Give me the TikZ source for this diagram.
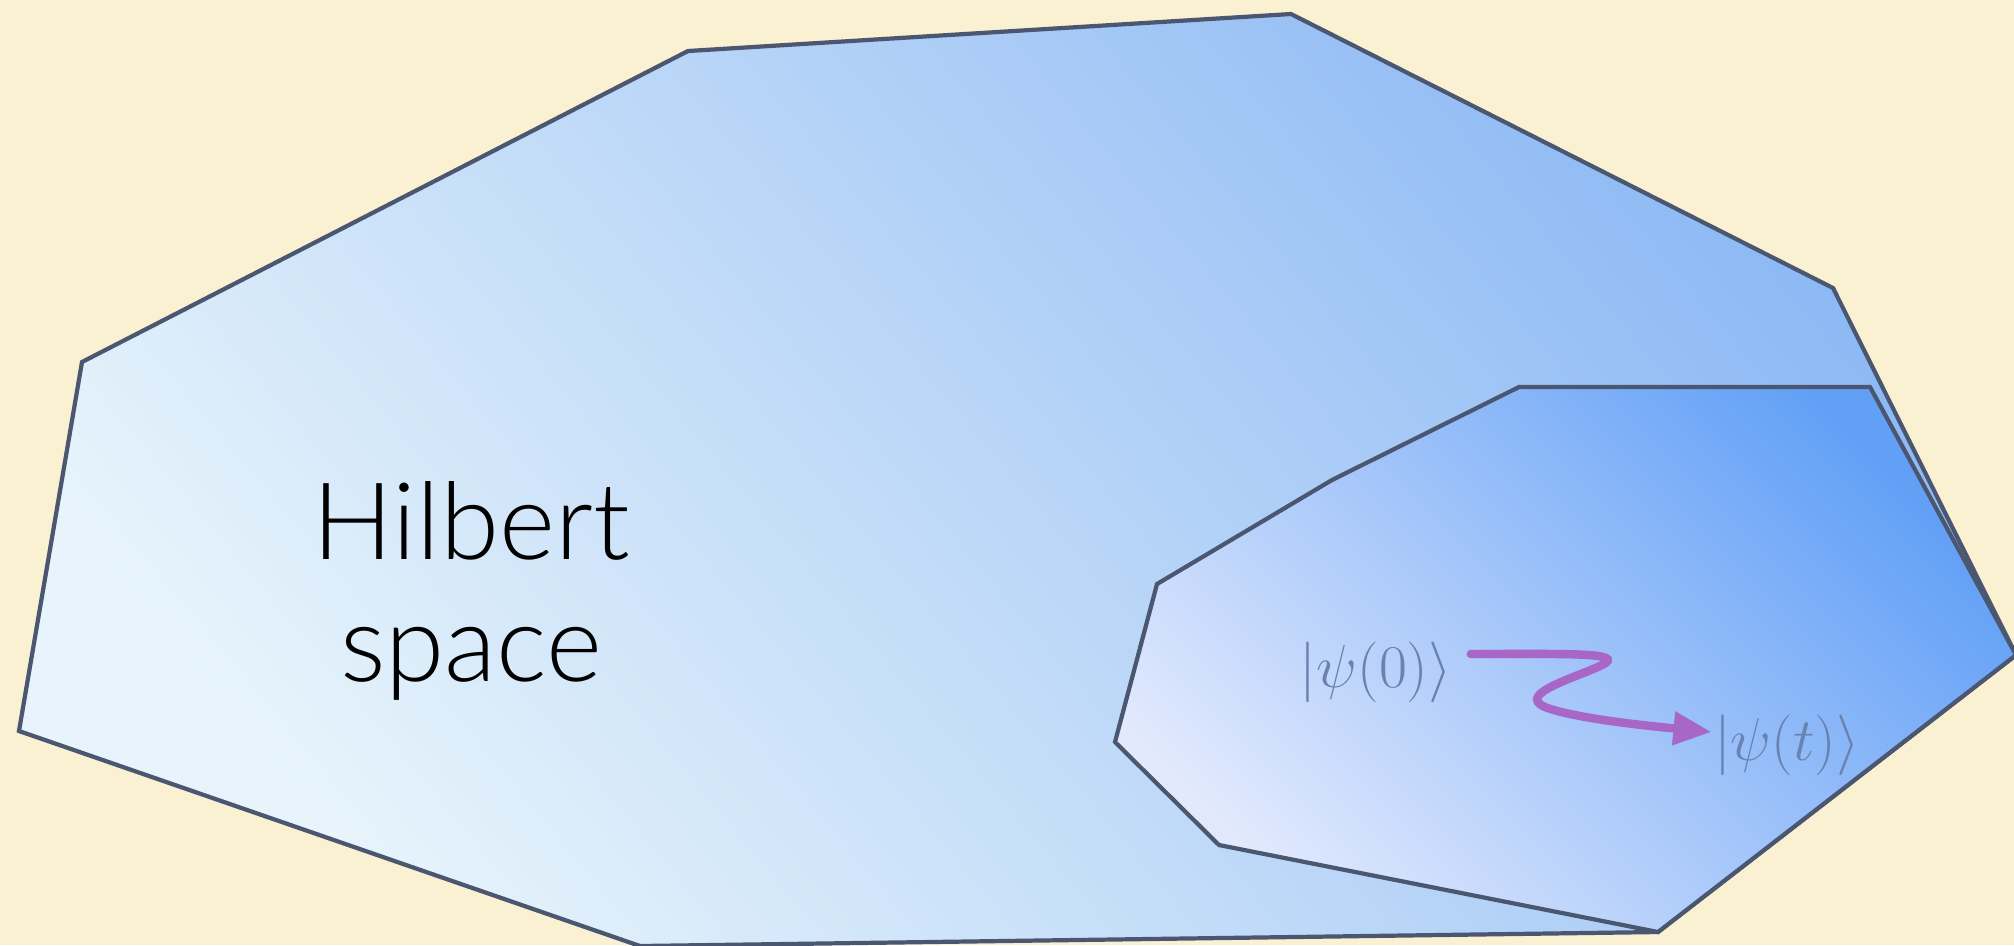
\documentclass[tikz,border=0pt]{standalone}
\usepackage{fontspec}
\setmainfont{Lato Light}
\usetikzlibrary{arrows.meta}

\definecolor{paper}{HTML}{FAF1D3}
\definecolor{rim}{HTML}{4B5770}
\definecolor{spacelo}{HTML}{E7F4FB}
\definecolor{spacehi}{HTML}{8CB8F4}
\definecolor{sublo}{HTML}{E2E9FD}
\definecolor{subhi}{HTML}{62A0F6}
\definecolor{ketcol}{HTML}{6A82B0}
\definecolor{flow}{HTML}{A867C6}

\begin{document}
\begin{tikzpicture}[
  x=0.1mm, y=-0.1mm,
  region/.style={draw=rim, line width=1.2pt, line join=miter},
  hlabel/.style={inner sep=0pt, align=center, font=\fontsize{30.5}{34.7}\selectfont},
  ket/.style={inner sep=0pt, text=ketcol, font=\fontsize{16.8}{20}\selectfont},
  evolve/.style={draw=flow, line width=2.4pt, line cap=round, -{Triangle[length=3.8mm, width=3.2mm]}}
]

  % --- Fondo ---
  \useasboundingbox (0,0) rectangle (2014,945);
  \fill[paper] (0,0) rectangle (2014,945);

  % --- Espacio de Hilbert ---
  \shade[region, top color=spacehi, bottom color=spacelo, shading angle=-50]
    (688,51) -- (1291,14) -- (1833,288) -- (2016,655) -- (1658,932)
    -- (640,946) -- (19,731) -- (82,362) -- cycle;

  % --- Subespacio ---
  \shade[region, top color=subhi, bottom color=sublo, shading angle=-45]
    (1519,387) -- (1870,387) -- (2016,655) -- (1658,932)
    -- (1219,845) -- (1115,742) -- (1157,584) -- (1332,480) -- cycle;

  % --- Etiquetas ---
  \node[hlabel] (hilbert) at (471,591) {Hilbert\\space};
  \node[ket] (psi0) at (1376,672) {$|\psi(0)\rangle$};
  \node[ket] (psit) at (1787,745) {$|\psi(t)\rangle$};

  % --- Evolucion ---
  \draw[evolve] ([shift={(18,-18)}]psi0.east)
    .. controls (1565,654) and (1628,652) .. (1602,665)
    .. controls (1578,677) and (1515,694) .. (1545,707)
    .. controls (1575,719) and (1660,727) .. ([shift={(-2,-13)}]psit.west);

\end{tikzpicture}
\end{document}
